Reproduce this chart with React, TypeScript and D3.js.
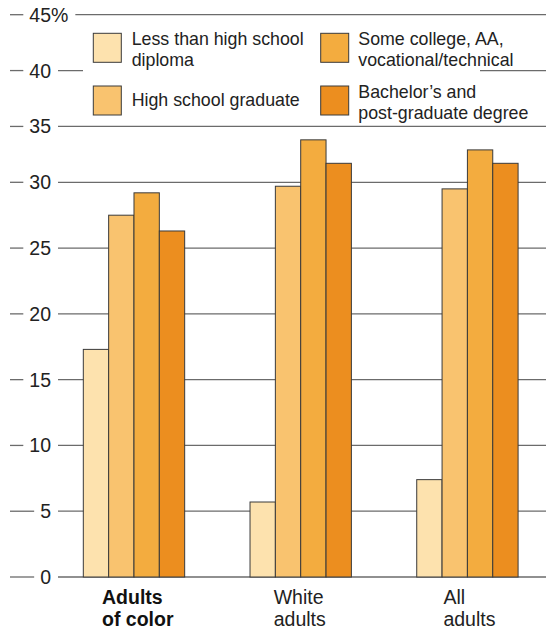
import React from "react";
import * as d3 from "d3";

const categories = ["Adults of color", "White adults", "All adults"];
const catLine1 = ["Adults", "White", "All"];
const catLine2 = ["of color", "adults", "adults"];
const catBold = [true, false, false];
const catLabelDx = [-32, -27, -24];

const seriesNames = [
  "Less than high school diploma",
  "High school graduate",
  "Some college, AA, vocational/technical",
  "Bachelor’s and post-graduate degree",
];
const seriesColors = ["#FDE2AE", "#F9C36F", "#F3AC3F", "#EC8E1F"];
const lessThanHS = [17.3, 5.7, 7.4];
const hsGraduate = [27.5, 29.7, 29.5];
const someCollege = [29.2, 33.8, 32.9];
const bachelors = [26.3, 31.7, 31.7];
const seriesValues = [lessThanHS, hsGraduate, someCollege, bachelors];

const yTicks = [0, 5, 10, 15, 20, 25, 30, 35, 40, 45];

const legendLines = [
  ["Less than high school", "diploma"],
  ["High school graduate"],
  ["Some college, AA,", "vocational/technical"],
  ["Bachelor’s and", "post-graduate degree"],
];

const FONT = "'Liberation Sans', Arial, Helvetica, sans-serif";
const W = 546;
const H = 629;

function measure(text: string, size: number, weight = "normal") {
  const c = document.createElement("canvas").getContext("2d");
  if (!c) return text.length * size * 0.55;
  c.font = `${weight} ${size}px 'Liberation Sans', Arial, sans-serif`;
  return c.measureText(text).width;
}

export default function App() {
  const y = d3.scaleLinear().domain([0, 30, 45]).range([577, 182.3, 14.7]);
  const x0 = d3
    .scaleBand<string>()
    .domain(categories)
    .range([33.3, 568.1])
    .paddingInner(0.392)
    .paddingOuter(0.3);
  const x1 = d3
    .scaleBand<string>()
    .domain(seriesNames)
    .range([0, x0.bandwidth()])
    .padding(0);

  const tickSize = 19.5;
  const labelRight = 51;
  const textColor = "#222";
  const gridColor = "#6b6b6b";

  return (
    <svg
      width={W}
      height={H}
      style={{ position: "absolute", left: 0, top: 0, fontFamily: FONT }}
    >
      <rect x={0} y={0} width={W} height={H} fill="#fff" />
      {yTicks.map((t) => {
        const num = String(t);
        const wNum = measure(num, tickSize);
        const pct = t === 45 ? "%" : "";
        const wPct = pct ? measure(pct, tickSize) : 0;
        const start = labelRight - wNum;
        const end = labelRight + wPct;
        const yy = y(t);
        return (
          <g key={t}>
            <line x1={10} x2={start - 6} y1={yy} y2={yy} stroke={gridColor} strokeWidth={1.3} />
            <line x1={end + 7} x2={W} y1={yy} y2={yy} stroke={gridColor} strokeWidth={1.3} />
            <text x={labelRight} y={yy} dy="0.36em" textAnchor="end" fontSize={tickSize} fill={textColor}>
              {num}
            </text>
            {pct && (
              <text x={labelRight} y={yy} dy="0.36em" textAnchor="start" fontSize={tickSize} fill={textColor}>
                {pct}
              </text>
            )}
          </g>
        );
      })}

      <rect x={83} y={21} width={397} height={101} fill="#fff" />

      {categories.map((c, ci) => (
        <g key={c} transform={`translate(${x0(c)},0)`}>
          {seriesNames.map((s, si) => {
            const v = seriesValues[si][ci];
            return (
              <rect
                key={s}
                x={x1(s)}
                y={y(v)}
                width={x1.bandwidth()}
                height={y(0) - y(v)}
                fill={seriesColors[si]}
                stroke="#3a3a3a"
                strokeWidth={1}
              />
            );
          })}
        </g>
      ))}

      {categories.map((c, ci) => {
        const cx = (x0(c) as number) + x0.bandwidth() / 2 + catLabelDx[ci];
        return (
          <text
            key={c}
            x={cx}
            fontSize={19.5}
            fontWeight={catBold[ci] ? "bold" : "normal"}
            fill={catBold[ci] ? "#111" : textColor}
          >
            <tspan x={cx} y={604}>
              {catLine1[ci]}
            </tspan>
            <tspan x={cx} y={626}>
              {catLine2[ci]}
            </tspan>
          </text>
        );
      })}

      {seriesNames.map((s, si) => {
        const col = si < 2 ? 0 : 1;
        const row = si % 2;
        const sx = [93.3, 320.7][col];
        const sy = [33.3, 86][row];
        const tx = [131.7, 358.3][col];
        const lines = legendLines[si];
        const baseY = lines.length === 1 ? sy + 20 : sy + 11.5;
        return (
          <g key={s}>
            <rect x={sx} y={sy} width={28} height={29} fill={seriesColors[si]} stroke="#3a3a3a" strokeWidth={1} />
            <text fontSize={17.8} fill={textColor}>
              {lines.map((l, li) => (
                <tspan key={li} x={tx} y={baseY + li * 21}>
                  {l}
                </tspan>
              ))}
            </text>
          </g>
        );
      })}
    </svg>
  );
}
